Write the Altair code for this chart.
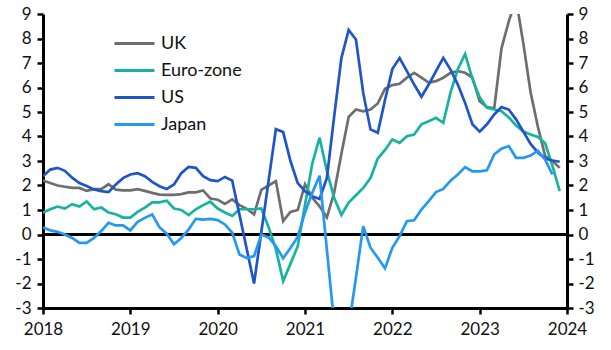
import altair as alt
import pandas as pd

series_names = ["UK", "Euro-zone", "US", "Japan"]
series_colors = ["#6e6e6e", "#16b3a0", "#1f55c9", "#2399f2"]

start_year = 2018
x_ticks = [2018, 2019, 2020, 2021, 2022, 2023, 2024]
y_ticks = [-3, -2, -1, 0, 1, 2, 3, 4, 5, 6, 7, 8, 9]

uk = [2.2, 2.1, 2.0, 1.95, 1.9, 1.9, 1.78, 1.85, 1.85, 2.05, 1.83, 1.8,
      1.8, 1.85, 1.78, 1.7, 1.63, 1.62, 1.62, 1.65, 1.72, 1.72, 1.8, 1.47,
      1.42, 1.25, 1.43, 1.2, 1.05, 0.82, 1.82, 2.0, 2.18, 0.55, 0.92, 1.0,
      2.05, 1.5, 1.15, 0.7, 1.7, 3.3, 4.8, 5.1, 5.03, 5.1, 5.35, 5.95,
      6.1, 6.15, 6.4, 6.6, 6.4, 6.2, 6.26, 6.4, 6.6, 6.67, 6.6, 6.4,
      5.44, 5.2, 5.15, 7.6, 8.7, 9.6, 7.8, 5.8, 4.4, 3.2, 3.0, 2.72]

euro = [0.9, 1.03, 1.14, 1.06, 1.24, 1.14, 1.35, 1.03, 1.1, 0.9, 0.83, 0.69,
        0.69, 0.92, 1.1, 1.31, 1.31, 1.38, 1.06, 1.0, 0.79, 1.03, 1.2, 1.34,
        1.06, 0.9, 0.76, 1.03, 1.03, 1.03, 1.06, 0.3, -0.6, -1.9, -1.2, -0.48,
        1.2, 2.9, 3.95, 2.6, 1.5, 0.8, 1.3, 1.6, 1.9, 2.3, 3.1, 3.45,
        3.88, 3.74, 4.01, 4.08, 4.5, 4.62, 4.76, 4.56, 5.8, 6.75, 7.37, 6.35,
        5.6, 5.17, 5.1, 5.03, 4.78, 4.45, 4.2, 4.08, 3.98, 3.72, 2.8, 1.77]

us = [2.38, 2.65, 2.72, 2.6, 2.32, 2.1, 1.98, 1.84, 1.77, 1.73, 2.04, 2.3,
      2.45, 2.5, 2.38, 2.15, 1.97, 1.86, 2.04, 2.5, 2.76, 2.72, 2.38, 2.22,
      2.18, 2.35, 2.2, 0.8, -0.6, -2.0, 0.1, 2.2, 4.3, 4.18, 3.0, 2.1,
      1.77, 1.56, 1.45, 2.3, 4.8, 7.2, 8.35, 7.96, 5.78, 4.29, 4.15, 5.5,
      6.75, 7.2, 6.67, 6.12, 5.62, 6.12, 6.67, 7.21, 6.73, 6.12, 5.37, 4.5,
      4.2, 4.5, 4.9, 5.2, 5.1, 4.7, 4.2, 3.7, 3.35, 3.1, 3.02, 2.97]

japan = [0.28, 0.17, 0.11, 0.0, -0.14, -0.34, -0.34, -0.14, 0.14, 0.48, 0.37, 0.37,
         0.17, 0.52, 0.68, 0.82, 0.3, 0.03, -0.4, -0.14, 0.2, 0.64, 0.61, 0.64,
         0.59, 0.41, 0.07, -0.82, -0.96, -0.88, 0.0, -0.12, -0.48, -0.97, -0.55, -0.1,
         0.9, 1.7, 2.4, -0.6, -3.6, -5.0, -3.8, -1.76, 0.34, -0.54, -0.95, -1.38,
         -0.54, -0.07, 0.54, 0.58, 1.02, 1.36, 1.73, 1.86, 2.2, 2.45, 2.75, 2.58,
         2.58, 2.62, 3.27, 3.5, 3.61, 3.13, 3.13, 3.22, 3.42, 3.05, 2.45]

rows = []
for name, vals in zip(series_names, [uk, euro, us, japan]):
    for i, v in enumerate(vals):
        rows.append({"t": start_year + i / 12.0, "series": name, "value": v,
                     "order": series_names.index(name)})
df = pd.DataFrame(rows)

font = "Lato"
yscale = alt.Scale(domain=[-3, 9], nice=False, zero=False)
label_expr = "datum.value < 0 ? '-' + abs(datum.value) : '' + datum.value"

common_axis = dict(
    values=y_ticks, grid=False, domainColor="black", domainWidth=3,
    tickColor="black", tickWidth=2.5, tickSize=6, labelFontSize=17,
    labelFont=font, labelColor="#111111", labelExpr=label_expr,
    title=None,
)

lines = alt.Chart(df).mark_line(clip=True, strokeWidth=2.7).encode(
    x=alt.X("t:Q", scale=alt.Scale(domain=[2018, 2024], nice=False, zero=False),
            axis=alt.Axis(values=x_ticks, format="d", grid=False, title=None,
                          domainColor="black", domainWidth=3, tickColor="black",
                          tickWidth=2.5, tickSize=6, labelFontSize=17,
                          labelFont=font, labelColor="#111111", labelPadding=7,
                          labelFlush=False, labelOverlap=False)),
    y=alt.Y("value:Q", scale=yscale,
            axis=alt.Axis(orient="left", labelPadding=6, **common_axis)),
    color=alt.Color("series:N",
                    scale=alt.Scale(domain=series_names, range=series_colors),
                    legend=alt.Legend(orient="none", legendX=80, legendY=18,
                                      title=None, symbolType="M -2 0 L 2 0",
                                      symbolStrokeWidth=3, symbolSize=400,
                                      labelFontSize=18, labelFont=font,
                                      labelColor="#111111", rowPadding=6,
                                      labelOffset=15)),
    order=alt.Order("order:Q"),
)

zero_df = pd.DataFrame({"z": [0]})
zero_rule = alt.Chart(zero_df).mark_rule(color="black", strokeWidth=3).encode(
    y=alt.Y("z:Q", scale=yscale,
            axis=alt.Axis(orient="right", labelPadding=5, **common_axis)),
)

chart = alt.layer(zero_rule, lines).resolve_scale(y="independent").properties(
    width=524, height=294,
    autosize=alt.AutoSizeParams(type="none"),
    padding={"left": 43, "right": 44, "top": 14, "bottom": 42},
).configure_view(strokeWidth=0)

chart.save("out.html", embed_options={"renderer": "svg", "actions": False})
